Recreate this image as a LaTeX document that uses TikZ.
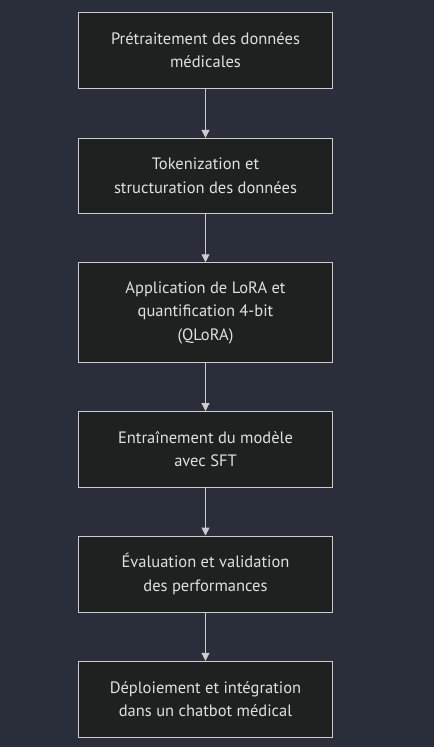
\documentclass[tikz,border=0pt]{standalone}
\usepackage{fontspec}
\setmainfont{PT Sans}
\usetikzlibrary{arrows.meta}
\definecolor{bg}{RGB}{42,45,58}
\definecolor{boxfill}{RGB}{31,32,32}
\definecolor{boxline}{RGB}{204,204,204}
\definecolor{txt}{RGB}{224,224,224}
\begin{document}
\begin{tikzpicture}[x=1pt,y=-1pt,
  stepbox/.style={draw=boxline, line width=1pt, fill=boxfill, minimum width=254pt, text=txt,
    align=center, font=\fontsize{16.5}{23.5}\selectfont, inner sep=0pt},
  flow/.style={draw=boxline, line width=1pt, -{Triangle[length=8pt,width=8pt]}}]
\fill[bg] (0,0) rectangle (434,747);
\useasboundingbox (0,0) rectangle (434,747);
\node[stepbox, minimum height=76pt] (n1) at (205.5,50.3) {Prétraitement des données\\médicales};
\node[stepbox, minimum height=75pt] (n2) at (205.5,175.8) {Tokenization et\\structuration des données};
\node[stepbox, minimum height=99.5pt] (n3) at (205.5,312.5) {Application de LoRA et\\quantification 4-bit\\(QLoRA)};
\node[stepbox, minimum height=75.5pt] (n4) at (205.5,449.3) {Entraînement du modèle\\avec SFT};
\node[stepbox, minimum height=76pt] (n5) at (205.5,574) {Évaluation et validation\\des performances};
\node[stepbox, minimum height=76pt] (n6) at (205.5,699.3) {Déploiement et intégration\\dans un chatbot médical};
\draw[flow] (n1) -- (n2);
\draw[flow] (n2) -- (n3);
\draw[flow] (n3) -- (n4);
\draw[flow] (n4) -- (n5);
\draw[flow] (n5) -- (n6);
\end{tikzpicture}
\end{document}
